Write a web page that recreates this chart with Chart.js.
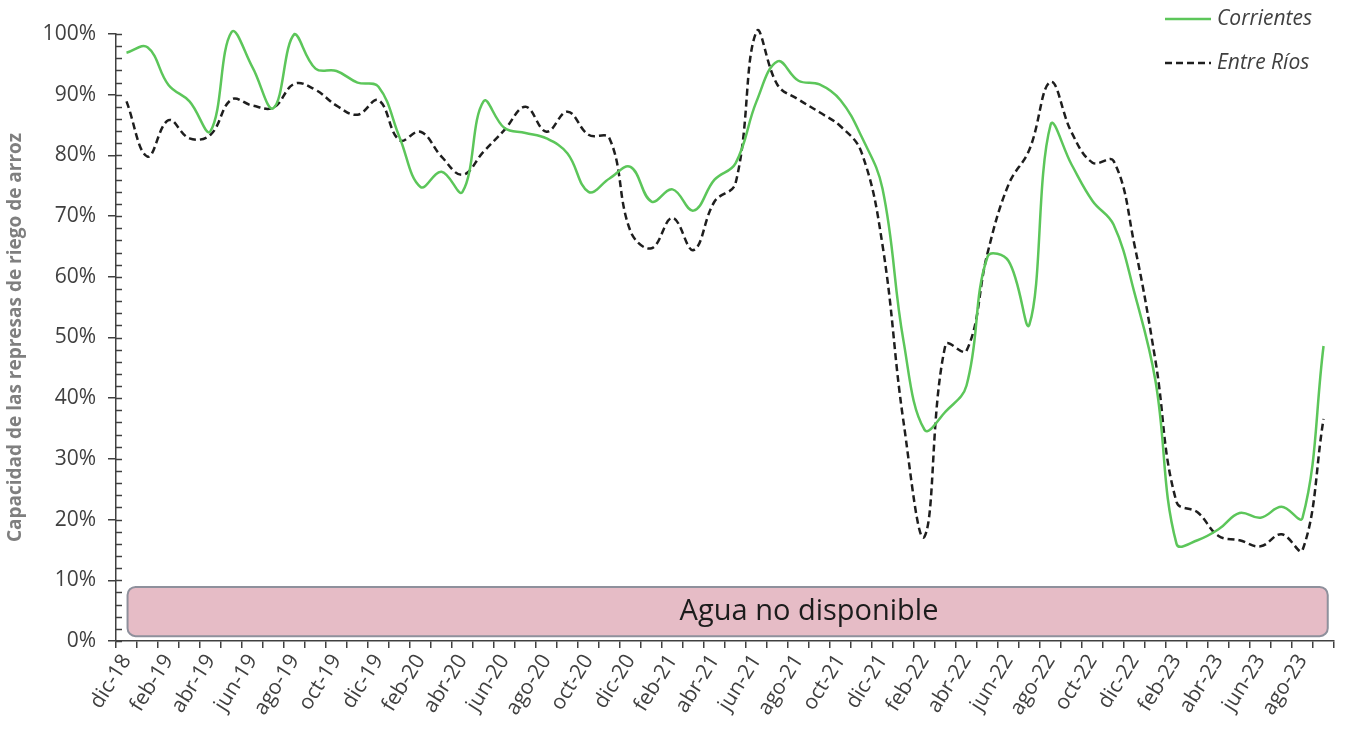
<!DOCTYPE html>
<html>
<head>
<meta charset="utf-8">
<script src="https://cdn.jsdelivr.net/npm/chart.js@4.4.1/dist/chart.umd.min.js"></script>
<style>
  html, body { margin: 0; padding: 0; background: #fff; }
  #wrap { width: 1347px; height: 733px; position: relative; }
</style>
</head>
<body>
<div id="wrap"><canvas id="represasChart"></canvas></div>
<script>
// meses dic-18 ... sep-23
const meses = [
  'dic-18',
  'ene-19', 'feb-19', 'mar-19', 'abr-19', 'may-19', 'jun-19', 'jul-19', 'ago-19', 'sep-19', 'oct-19', 'nov-19', 'dic-19',
  'ene-20', 'feb-20', 'mar-20', 'abr-20', 'may-20', 'jun-20', 'jul-20', 'ago-20', 'sep-20', 'oct-20', 'nov-20', 'dic-20',
  'ene-21', 'feb-21', 'mar-21', 'abr-21', 'may-21', 'jun-21', 'jul-21', 'ago-21', 'sep-21', 'oct-21', 'nov-21', 'dic-21',
  'ene-22', 'feb-22', 'mar-22', 'abr-22', 'may-22', 'jun-22', 'jul-22', 'ago-22', 'sep-22', 'oct-22', 'nov-22', 'dic-22',
  'ene-23', 'feb-23', 'mar-23', 'abr-23', 'may-23', 'jun-23', 'jul-23', 'ago-23', 'sep-23'
];

// % de capacidad
const corrientes = [
  96.9, 97.8, 91.6, 88.9, 84.0, 100.3, 94.5, 87.8, 100.0, 94.3, 93.9, 92.0, 91.3,
  83.0, 74.8, 77.3, 74.0, 88.9, 84.5, 83.7, 82.8, 80.3, 74.0, 76.2, 78.1,
  72.4, 74.4, 70.9, 76.0, 78.7, 88.9, 95.5, 92.3, 91.7, 89.1, 83.1, 74.5,
  49.4, 34.8, 37.8, 42.1, 63.3, 62.6, 52.2, 85.0, 78.5, 72.5, 68.6, 57.3,
  42.8, 16.0, 16.6, 18.4, 21.1, 20.3, 22.1, 20.3, 48.6
];
const entreRios = [
  88.9, 79.8, 85.8, 82.8, 83.4, 89.2, 88.2, 87.9, 91.8, 90.8, 88.2, 86.7, 89.1,
  82.5, 83.9, 79.8, 76.8, 80.6, 84.2, 88.0, 83.9, 87.2, 83.4, 82.8, 67.5,
  64.7, 69.7, 64.4, 72.4, 75.4, 100.4, 91.6, 89.2, 87.1, 84.8, 80.5, 65.2,
  36.1, 17.2, 48.8, 47.8, 63.9, 75.2, 81.0, 92.1, 83.8, 78.8, 79.1, 65.2,
  46.1, 22.9, 21.2, 17.3, 16.6, 15.6, 17.6, 15.0, 36.6
];

const seriesNames = ['Corrientes', 'Entre Ríos'];
const yTitle = 'Capacidad de las represas de riego de arroz';
const bandText = 'Agua no disponible';

const FONT = "'Open Sans', sans-serif";
const AXIS_COLOR = '#404040';

// franja rosa + ticks internos del eje y + leyenda
const extras = {
  id: 'extras',
  beforeDatasetsDraw(chart) {
    const { ctx, scales: { x, y } } = chart;
    const x0 = x.getPixelForValue(0.05), x1 = x.getPixelForValue(57.2);
    const y0 = y.getPixelForValue(8.9), y1 = y.getPixelForValue(0.8);
    ctx.save();
    ctx.beginPath();
    ctx.roundRect(x0, y0, x1 - x0, y1 - y0, 8);
    ctx.fillStyle = '#e6bcc6';
    ctx.fill();
    ctx.lineWidth = 2;
    ctx.strokeStyle = '#8e909c';
    ctx.stroke();
    ctx.fillStyle = '#1c1c1c';
    ctx.font = '29px ' + FONT;
    ctx.textAlign = 'center';
    ctx.textBaseline = 'middle';
    // text sits right of the band centre, as in the original
    ctx.fillText(bandText, x.getPixelForValue(32.5), (y0 + y1) / 2);

    // minor ticks every 2%
    ctx.strokeStyle = AXIS_COLOR;
    ctx.lineWidth = 1.5;
    const ax = x.left;
    for (let v = 0; v <= 100; v += 2) {
      const py = Math.round(y.getPixelForValue(v)) + 0.5;
      ctx.beginPath();
      ctx.moveTo(ax, py);
      ctx.lineTo(ax + 6, py);
      ctx.stroke();
    }
    ctx.restore();
  },
  afterDraw(chart) {
    const ctx = chart.ctx;
    const rows = [19, 63];
    ctx.save();
    chart.data.datasets.forEach((ds, i) => {
      ctx.beginPath();
      ctx.strokeStyle = ds.borderColor;
      ctx.lineWidth = ds.borderWidth;
      ctx.setLineDash(ds.borderDash || []);
      ctx.moveTo(1165, rows[i]);
      ctx.lineTo(1211, rows[i]);
      ctx.stroke();
      ctx.setLineDash([]);
      ctx.fillStyle = AXIS_COLOR;
      ctx.font = 'italic 21px ' + FONT;
      ctx.textAlign = 'left';
      ctx.textBaseline = 'middle';
      ctx.fillText(ds.label, 1217, rows[i]);
    });
    ctx.restore();
  }
};

const ctx = document.getElementById('represasChart').getContext('2d');
new Chart(ctx, {
  type: 'line',
  data: {
    labels: meses,
    datasets: [
      {
        label: seriesNames[0],
        data: corrientes,
        borderColor: '#5cc65a',
        borderWidth: 2.5,
        pointRadius: 0,
        tension: 0.4,
        clip: false,
        fill: false
      },
      {
        label: seriesNames[1],
        data: entreRios,
        borderColor: '#1e1e1e',
        borderWidth: 2.5,
        borderDash: [7, 4],
        pointRadius: 0,
        tension: 0.4,
        clip: false,
        fill: false
      }
    ]
  },
  options: {
    responsive: true,
    maintainAspectRatio: false,
    animation: false,
    layout: { padding: { left: 0, right: 10, top: 34, bottom: 0 } },
    plugins: {
      legend: { display: false },
      tooltip: { enabled: false }
    },
    scales: {
      x: {
        offset: true,
        grid: { offset: true, drawOnChartArea: false, tickLength: 7, color: AXIS_COLOR, lineWidth: 1.5 },
        border: { color: AXIS_COLOR, width: 1.5 },
        ticks: {
          autoSkip: false,
          minRotation: 58,
          maxRotation: 58,
          padding: 2,
          color: AXIS_COLOR,
          font: { family: FONT, size: 21 },
          callback: function(value, index) {
            return index % 2 === 0 ? meses[index] : '';
          }
        },
        afterFit: s => { s.height = 92; }
      },
      y: {
        min: 0,
        max: 100,
        grid: { drawOnChartArea: false, tickLength: 8, color: AXIS_COLOR, lineWidth: 1.5 },
        border: { color: AXIS_COLOR, width: 1.5 },
        ticks: {
          stepSize: 10,
          padding: 12,
          color: AXIS_COLOR,
          font: { family: FONT, size: 21 },
          callback: v => v + '%'
        },
        title: {
          display: true,
          text: yTitle,
          color: '#7f7f7f',
          font: { family: FONT, size: 19, weight: 'bold' },
          padding: { top: 4, bottom: 0 }
        },
        afterFit: s => { s.width = 116; }
      }
    }
  },
  plugins: [extras]
});
</script>
</body>
</html>
